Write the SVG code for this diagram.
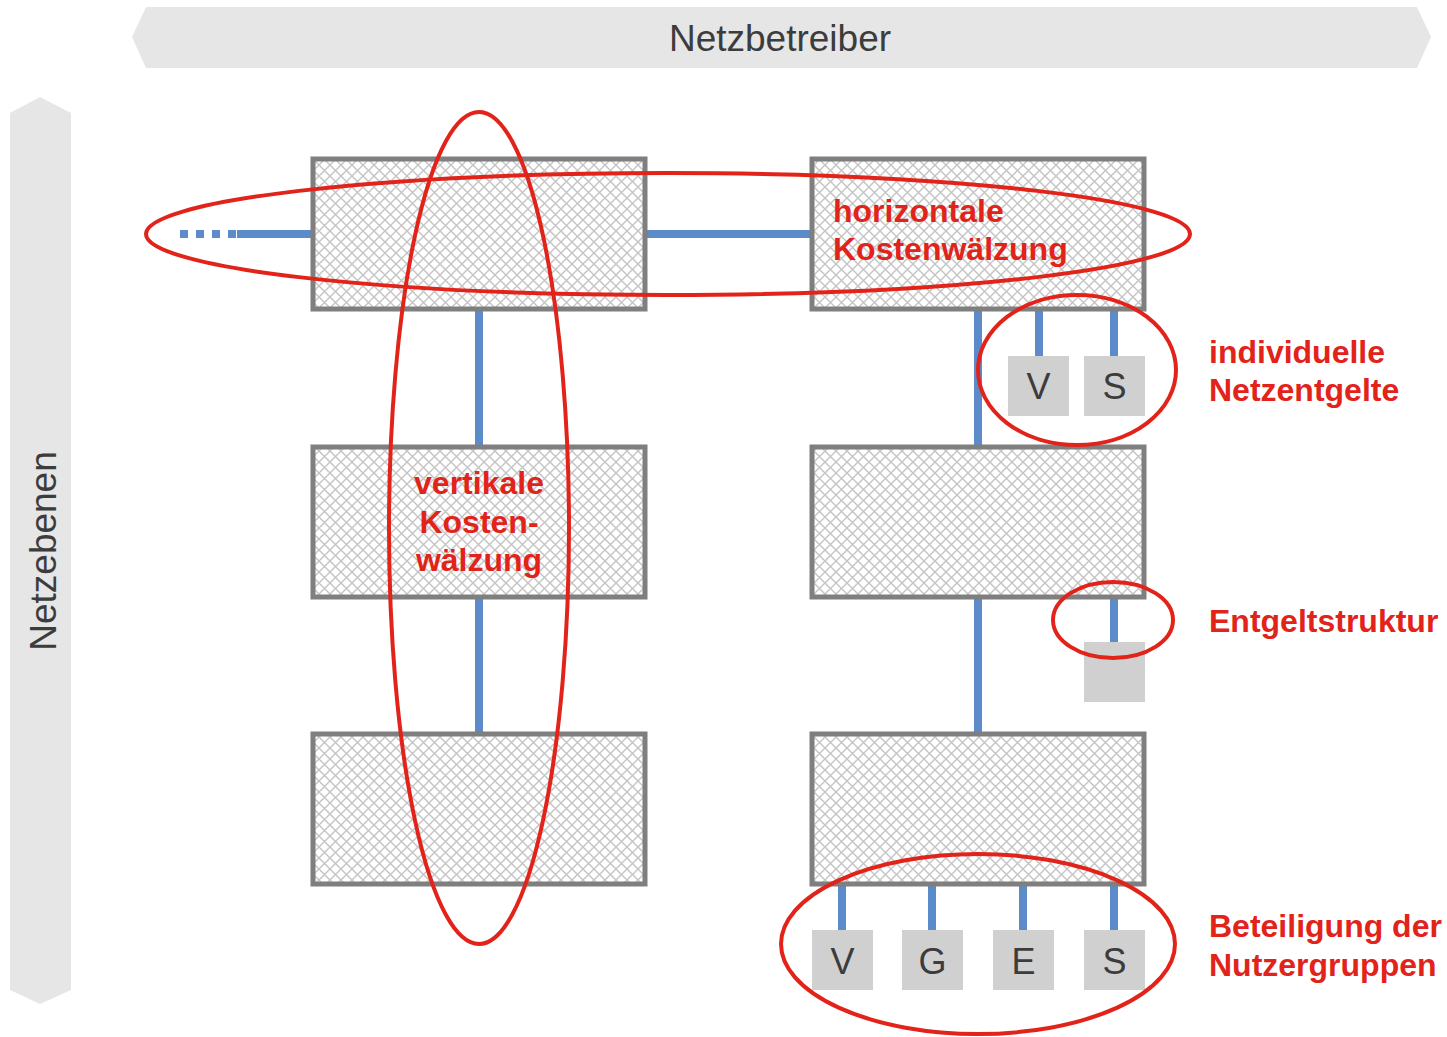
<svg xmlns="http://www.w3.org/2000/svg" width="1447" height="1037" viewBox="0 0 1447 1037">
<defs>
<pattern id="hatch" width="11" height="11" patternUnits="userSpaceOnUse">
<rect width="11" height="11" fill="#ffffff"/>
<path d="M0,0 L11,11 M11,0 L0,11" stroke="#c4c4c4" stroke-width="1.4"/>
</pattern>
<style>
.bar{fill:#e6e6e6}
.lvl{fill:url(#hatch);stroke:#7f7f7f;stroke-width:5}
.sq{fill:#d0d0d0}
.ln{stroke:#5b8cc9;stroke-width:8;fill:none}
.el{fill:none;stroke:#e2231a;stroke-width:4}
.gt{font-family:"Liberation Sans",Arial,sans-serif;font-size:36px;fill:#3c3c3c}
.big{font-size:37px}
.rt{font-family:"Liberation Sans",Arial,sans-serif;font-size:32px;font-weight:bold;fill:#e2231a}
</style>
</defs>
<rect width="1447" height="1037" fill="#ffffff"/>
<g id="netzbetreiber">
<polygon class="bar" points="146,7 1417,7 1431,37 1417,68 146,68 132,37"/>
<text class="gt big" x="780" y="51" text-anchor="middle">Netzbetreiber</text>
</g>
<g id="netzebenen">
<polygon class="bar" points="10,113 40,97 71,113 71,990 40,1004 10,990"/>
<text class="gt big" transform="translate(56,551) rotate(-90)" text-anchor="middle">Netzebenen</text>
</g>
<g id="connectors">
<line class="ln" x1="180" y1="234" x2="236" y2="234" stroke-dasharray="8,8"/>
<line class="ln" x1="237" y1="234" x2="313" y2="234"/>
<line class="ln" x1="645" y1="234" x2="811" y2="234"/>
<line class="ln" x1="479" y1="309" x2="479" y2="446"/>
<line class="ln" x1="479" y1="597" x2="479" y2="733"/>
<line class="ln" x1="978" y1="309" x2="978" y2="446"/>
<line class="ln" x1="978" y1="597" x2="978" y2="733"/>
<line class="ln" x1="1039" y1="309" x2="1039" y2="356"/>
<line class="ln" x1="1114" y1="309" x2="1114" y2="356"/>
<line class="ln" x1="1114" y1="597" x2="1114" y2="642"/>
<line class="ln" x1="842" y1="884" x2="842" y2="930"/>
<line class="ln" x1="932" y1="884" x2="932" y2="930"/>
<line class="ln" x1="1023" y1="884" x2="1023" y2="930"/>
<line class="ln" x1="1114" y1="884" x2="1114" y2="930"/>
</g>
<g id="box-l1"><rect class="lvl" x="313" y="159" width="332" height="150"/></g>
<g id="box-l2"><rect class="lvl" x="313" y="447" width="332" height="150"/></g>
<g id="box-l3"><rect class="lvl" x="313" y="734" width="332" height="150"/></g>
<g id="box-r1"><rect class="lvl" x="812" y="159" width="332" height="150"/></g>
<g id="box-r2"><rect class="lvl" x="812" y="447" width="332" height="150"/></g>
<g id="box-r3"><rect class="lvl" x="812" y="734" width="332" height="150"/></g>
<g id="sq-v1"><rect class="sq" x="1008" y="356" width="61" height="60"/><text class="gt" x="1038.5" y="399" text-anchor="middle">V</text></g>
<g id="sq-s1"><rect class="sq" x="1084" y="356" width="61" height="60"/><text class="gt" x="1114.5" y="399" text-anchor="middle">S</text></g>
<g id="sq-e"><rect class="sq" x="1084" y="642" width="61" height="60"/></g>
<g id="sq-v2"><rect class="sq" x="812" y="930" width="61" height="60"/><text class="gt" x="842.5" y="974" text-anchor="middle">V</text></g>
<g id="sq-g2"><rect class="sq" x="902" y="930" width="61" height="60"/><text class="gt" x="932.5" y="974" text-anchor="middle">G</text></g>
<g id="sq-e2"><rect class="sq" x="993" y="930" width="61" height="60"/><text class="gt" x="1023.5" y="974" text-anchor="middle">E</text></g>
<g id="sq-s2"><rect class="sq" x="1084" y="930" width="61" height="60"/><text class="gt" x="1114.5" y="974" text-anchor="middle">S</text></g>
<g id="ellipses">
<ellipse class="el" cx="668" cy="234" rx="522" ry="61"/>
<ellipse class="el" cx="479" cy="528" rx="90" ry="416"/>
<ellipse class="el" cx="1077" cy="370" rx="99" ry="75"/>
<ellipse class="el" cx="1113" cy="620" rx="60" ry="38"/>
<ellipse class="el" cx="978" cy="944" rx="197" ry="90"/>
</g>
<g id="labels">
<text class="rt" x="833" y="222">horizontale</text>
<text class="rt" x="833" y="260">Kostenwälzung</text>
<text class="rt" x="479" y="494" text-anchor="middle">vertikale</text>
<text class="rt" x="479" y="533" text-anchor="middle">Kosten-</text>
<text class="rt" x="479" y="571" text-anchor="middle">wälzung</text>
<text class="rt" x="1209" y="363">individuelle</text>
<text class="rt" x="1209" y="401">Netzentgelte</text>
<text class="rt" x="1209" y="632">Entgeltstruktur</text>
<text class="rt" x="1209" y="937">Beteiligung der</text>
<text class="rt" x="1209" y="976">Nutzergruppen</text>
</g>
</svg>
